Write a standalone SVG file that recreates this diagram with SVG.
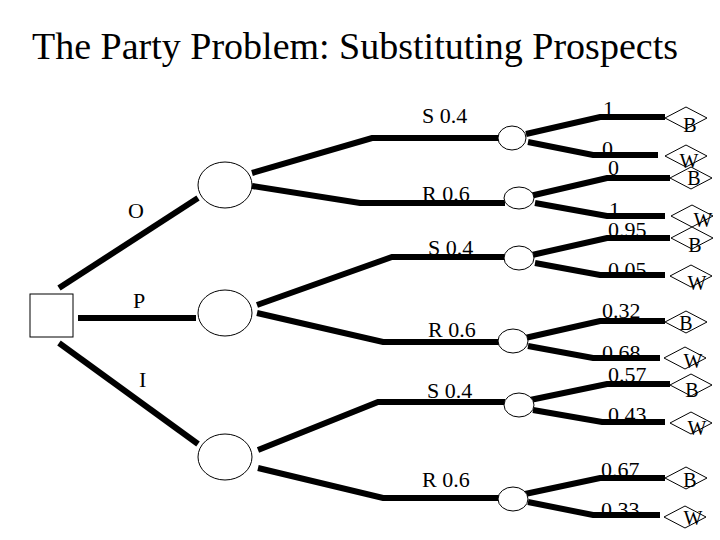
<svg xmlns="http://www.w3.org/2000/svg" width="720" height="540" viewBox="0 0 720 540">
<style>
text{font-family:"Liberation Serif","Times New Roman",serif;fill:#000}
.t{font-size:38px}
.l{font-size:22px}
.o{font-size:20px;text-anchor:middle}
.e{fill:none;stroke:#000;stroke-width:6;stroke-linejoin:miter}
.n{fill:#fff;stroke:#000;stroke-width:1}
</style>
<defs>
<polygon id="dia" points="-21,0 0,-11 21,0 0,11" class="n"/>
</defs>
<rect width="720" height="540" fill="#fff"/>
<text class="t" x="32" y="59">The Party Problem: Substituting Prospects</text>
<g id="connectors">
<polyline class="e" points="59,288 198,198"/>
<polyline class="e" points="78,318 196,318"/>
<polyline class="e" points="59,343 198,444"/>
<polyline class="e" points="252,173 372,138 498,138"/>
<polyline class="e" points="252,186 360,203 505,203"/>
<polyline class="e" points="257,305 392,257 505,257"/>
<polyline class="e" points="257,313 383,342 500,342"/>
<polyline class="e" points="258,450 378,402 505,402"/>
<polyline class="e" points="258,468 383,498 500,498"/>
<polyline class="e" points="526,134 600,117 665,117"/>
<polyline class="e" points="528,142 593,155 658,155"/>
<polyline class="e" points="530,196 607,178 670,178"/>
<polyline class="e" points="535,203 607,216 665,216"/>
<polyline class="e" points="532,255 607,238 670,238"/>
<polyline class="e" points="535,263 600,275 665,275"/>
<polyline class="e" points="525,338 600,321 665,321"/>
<polyline class="e" points="528,346 593,358 660,358"/>
<polyline class="e" points="530,400 607,384 670,384"/>
<polyline class="e" points="533,410 602,422 665,422"/>
<polyline class="e" points="525,494 600,478 665,478"/>
<polyline class="e" points="528,502 593,515 660,515"/>
</g>
<g id="edge-labels">
<text class="l" x="128" y="218">O</text>
<text class="l" x="133" y="308">P</text>
<text class="l" x="139" y="387">I</text>
<text class="l" x="422" y="123">S 0.4</text>
<text class="l" x="422" y="201">R 0.6</text>
<text class="l" x="428" y="255">S 0.4</text>
<text class="l" x="428" y="337">R 0.6</text>
<text class="l" x="427" y="398">S 0.4</text>
<text class="l" x="422" y="487">R 0.6</text>
<text class="l" x="603" y="116">1</text>
<text class="l" x="602" y="156">0</text>
<text class="l" x="608" y="175">0</text>
<text class="l" x="609" y="217">1</text>
<text class="l" x="608" y="237">0.95</text>
<text class="l" x="608" y="277">0.05</text>
<text class="l" x="602" y="318">0.32</text>
<text class="l" x="602" y="360">0.68</text>
<text class="l" x="608" y="382">0.57</text>
<text class="l" x="608" y="422">0.43</text>
<text class="l" x="601" y="477">0.67</text>
<text class="l" x="601" y="517">0.33</text>
</g>
<g id="decision"><rect class="n" x="30" y="294" width="43" height="43"/></g>
<g id="chance-O"><ellipse class="n" cx="225" cy="185" rx="27" ry="23"/></g>
<g id="chance-P"><ellipse class="n" cx="225" cy="313" rx="27" ry="23"/></g>
<g id="chance-I"><ellipse class="n" cx="225" cy="457" rx="27" ry="23"/></g>
<g id="chance-OS"><ellipse class="n" cx="512" cy="138" rx="14" ry="12"/></g>
<g id="chance-OR"><ellipse class="n" cx="519" cy="198" rx="15" ry="11"/></g>
<g id="chance-PS"><ellipse class="n" cx="519" cy="258" rx="15" ry="12"/></g>
<g id="chance-PR"><ellipse class="n" cx="513" cy="341" rx="15" ry="12"/></g>
<g id="chance-IS"><ellipse class="n" cx="519" cy="405" rx="15" ry="12"/></g>
<g id="chance-IR"><ellipse class="n" cx="513" cy="499" rx="15" ry="12"/></g>
<g id="end-1B"><use href="#dia" x="686" y="118"/><text class="o" x="690" y="132">B</text></g>
<g id="end-1W"><use href="#dia" x="686" y="156"/><text class="o" x="689" y="168">W</text></g>
<g id="end-2B"><use href="#dia" x="691" y="178"/><text class="o" x="694" y="185">B</text></g>
<g id="end-2W"><use href="#dia" x="692" y="216"/><text class="o" x="703" y="227">W</text></g>
<g id="end-3B"><use href="#dia" x="692" y="238"/><text class="o" x="695" y="252">B</text></g>
<g id="end-3W"><use href="#dia" x="691" y="276"/><text class="o" x="697" y="290">W</text></g>
<g id="end-4B"><use href="#dia" x="686" y="322"/><text class="o" x="686" y="330">B</text></g>
<g id="end-4W"><use href="#dia" x="685" y="358"/><text class="o" x="693" y="368">W</text></g>
<g id="end-5B"><use href="#dia" x="691" y="385"/><text class="o" x="692" y="397">B</text></g>
<g id="end-5W"><use href="#dia" x="691" y="423"/><text class="o" x="697" y="435">W</text></g>
<g id="end-6B"><use href="#dia" x="686" y="478"/><text class="o" x="690" y="487">B</text></g>
<g id="end-6W"><use href="#dia" x="685" y="517"/><text class="o" x="693" y="525">W</text></g>
</svg>
